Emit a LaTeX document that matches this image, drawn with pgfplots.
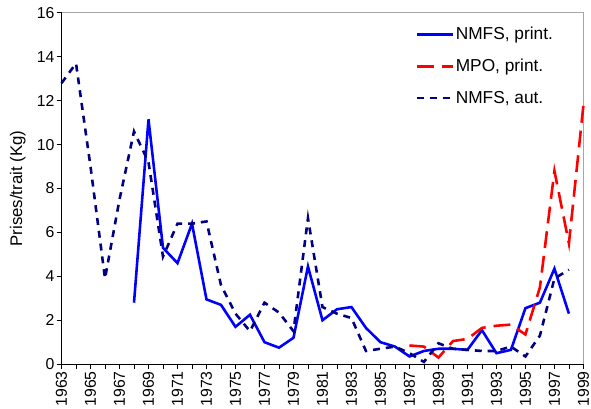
\documentclass[border=0pt]{standalone}
\usepackage{pgfplots}
\pgfplotsset{compat=1.18}
\usepackage{fontspec}
\setmainfont{Liberation Sans}
\definecolor{navyc}{RGB}{0,0,128}
\begin{document}
\begin{tikzpicture}[x=1bp,y=1bp]
\begin{axis}[
  scale only axis,
  width=526bp, height=354bp,
  xmin=1963, xmax=1999, ymin=0, ymax=16,
  axis x line*=bottom, axis y line*=left,
  axis line style={line width=1bp, black},
  tick align=outside,
  xtick={1963,1965,...,1999},
  minor xtick={1964,1966,...,1998},
  ytick={0,2,...,16},
  major tick length=5bp, minor tick length=5bp,
  tick style={black, line width=0.8bp},
  /pgf/number format/assume math mode=true,
  /pgf/number format/1000 sep={},
  xticklabel style={rotate=90, anchor=east, font=\fontsize{16}{18}\selectfont, inner sep=2bp},
  yticklabel style={font=\fontsize{16}{18}\selectfont, inner sep=2bp},
  ylabel={Prises/trait (Kg)},
  ylabel style={font=\fontsize{17}{19}\selectfont, at={(axis description cs:0,0.5)}, anchor=center, yshift=44bp},
  clip=false,
  legend style={draw=none, fill=none, at={(axis description cs:0.678,0.965)}, anchor=north west,
    font=\fontsize{17.5}{20}\selectfont, row sep=14bp, inner sep=0pt},
  legend cell align=left,
  legend image code/.code={\draw[#1] (0bp,0bp) -- (36bp,0bp);},
]
\draw[gray!70, line width=1bp] (rel axis cs:0,1) -- (rel axis cs:1,1) -- (rel axis cs:1,0);
\addplot[blue, line width=2.6bp] coordinates {
(1968,2.8)(1969,11.15)(1970,5.3)(1971,4.6)(1972,6.4)(1973,2.95)(1974,2.7)(1975,1.7)
(1976,2.25)(1977,1.0)(1978,0.75)(1979,1.2)(1980,4.45)(1981,2.0)(1982,2.5)(1983,2.6)
(1984,1.65)(1985,1.0)(1986,0.8)(1987,0.35)(1988,0.6)(1989,0.7)(1990,0.7)(1991,0.65)
(1992,1.55)(1993,0.5)(1994,0.65)(1995,2.55)(1996,2.8)(1997,4.35)(1998,2.3)};
\addlegendentry{NMFS, print.}
\addplot[red, line width=2.6bp, dash pattern=on 17bp off 8bp] coordinates {
(1987,0.85)(1988,0.8)(1989,0.3)(1990,1.05)(1991,1.15)(1992,1.65)(1993,1.75)(1994,1.8)
(1995,1.35)(1996,3.5)(1997,8.8)(1998,5.5)(1999,11.8)};
\addlegendentry{MPO, print.}
\addplot[navyc, line width=2.6bp, dash pattern=on 7bp off 6bp] coordinates {
(1963,12.8)(1964,13.7)(1965,9.0)(1966,3.9)(1967,7.5)(1968,10.6)(1969,9.2)(1970,4.9)
(1971,6.4)(1972,6.4)(1973,6.5)(1974,3.6)(1975,2.3)(1976,1.5)(1977,2.8)(1978,2.35)
(1979,1.5)(1980,6.65)(1981,2.6)(1982,2.3)(1983,2.1)(1984,0.6)(1985,0.7)(1986,0.8)
(1987,0.5)(1988,0.1)(1989,0.95)(1990,0.7)(1991,0.65)(1992,0.6)(1993,0.6)(1994,0.8)
(1995,0.35)(1996,1.3)(1997,3.9)(1998,4.3)};
\addlegendentry{NMFS, aut.}
\end{axis}
\path (-62bp,-45bp) rectangle (529bp,367bp);
\end{tikzpicture}
\end{document}
